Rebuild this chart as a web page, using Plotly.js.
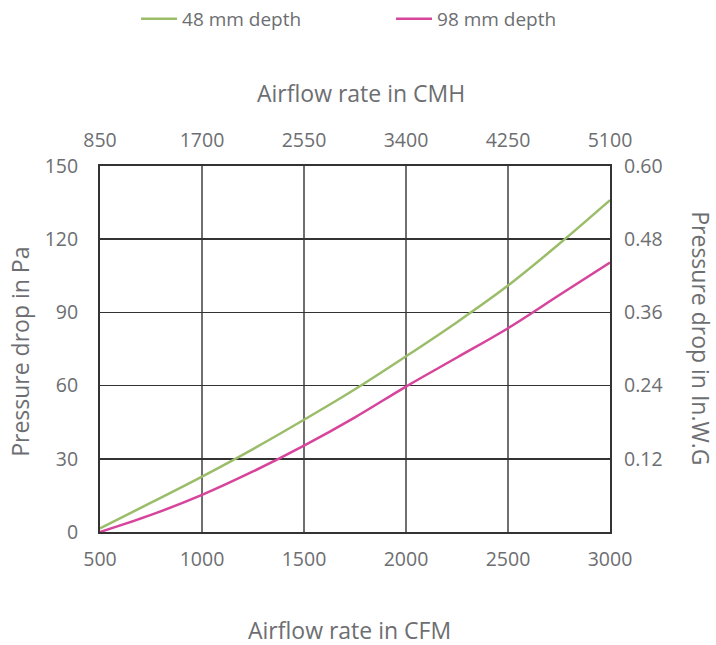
<!DOCTYPE html>
<html>
<head>
<meta charset="utf-8">
<script src="https://cdn.plot.ly/plotly-3.0.1.min.js"></script>
<style>html,body{margin:0;padding:0;background:#fff;}#chart{width:716px;height:645px;}</style>
</head>
<body>
<div id="chart"></div>
<script>
// Airflow rate in CFM (bottom axis)
const cfm = [500, 750, 1000, 1250, 1500, 1750, 2000, 2250, 2500, 2750, 3000];
// Pressure drop in Pa
const depth48 = [1.5, 12, 22.7, 34, 46, 58.5, 72, 86, 101, 118, 136];
const depth98 = [0, 7, 15.2, 24.8, 35.4, 47, 59.6, 71.5, 83.5, 97, 110.4];
const seriesNames = ['48 mm depth', '98 mm depth'];
// Axis ticks
const cfmTicks = [500, 1000, 1500, 2000, 2500, 3000];
const cmhTicks = [850, 1700, 2550, 3400, 4250, 5100];
const paTicks = [0, 30, 60, 90, 120, 150];
const inwgTicks = [0.12, 0.24, 0.36, 0.48, 0.60];
const inwgLabels = ['0.12', '0.24', '0.36', '0.48', '0.60'];
const CMH_PER_CFM = 1.7;
const PA_PER_INWG = 250;

const grey = '#6d6e71';
const tickFont = {family: 'Open Sans, sans-serif', size: 19.5, color: grey};
const titleFont = {family: 'Open Sans, sans-serif', size: 23, color: grey};

const traces = [
  {x: cfm, y: depth48, name: seriesNames[0], mode: 'lines', line: {color: '#9bbd6a', width: 2.5, shape: 'spline'}, xaxis: 'x', yaxis: 'y'},
  {x: cfm, y: depth98, name: seriesNames[1], mode: 'lines', line: {color: '#d6449c', width: 2.5, shape: 'spline'}, xaxis: 'x', yaxis: 'y'},
  // invisible companion trace to anchor the secondary (CMH / in.W.G) axes
  {x: cfm.map(v => v * CMH_PER_CFM), y: depth48.map(v => v / PA_PER_INWG), mode: 'lines', line: {color: 'rgba(0,0,0,0)', width: 0},
   xaxis: 'x2', yaxis: 'y2', showlegend: false, hoverinfo: 'skip'}
];

const layout = {
  width: 716, height: 645,
  margin: {l: 100, r: 106, t: 166, b: 113},
  paper_bgcolor: '#fff', plot_bgcolor: '#fff',
  showlegend: true,
  legend: {orientation: 'h', xref: 'container', yref: 'container', x: 0.19, y: 1.0, xanchor: 'left', yanchor: 'top',
    font: {family: 'Open Sans, sans-serif', size: 19, color: grey}, entrywidth: 204, itemwidth: 36},
  xaxis: {range: [500, 3000], tickvals: cfmTicks, showgrid: true, gridcolor: '#6f6f6f', gridwidth: 1.5,
    showline: true, linecolor: '#333', linewidth: 2, mirror: true, ticks: '', ticklabelstandoff: 9,
    tickfont: tickFont, zeroline: false, fixedrange: true},
  xaxis2: {range: [850, 5100], tickvals: cmhTicks, overlaying: 'x', side: 'top', showgrid: false, ticks: '',
    ticklabelstandoff: 14, tickfont: tickFont, zeroline: false, showline: false},
  yaxis: {range: [0, 150], tickvals: paTicks, showgrid: true, gridcolor: '#333', gridwidth: 1.5,
    showline: true, linecolor: '#333', linewidth: 2, mirror: true, ticks: '', ticklabelstandoff: 16,
    tickfont: tickFont, zeroline: false},
  yaxis2: {range: [0, 0.6], tickvals: inwgTicks, ticktext: inwgLabels, overlaying: 'y', side: 'right', showgrid: false,
    ticks: '', ticklabelstandoff: 13, tickfont: tickFont, zeroline: false, showline: false},
  annotations: [
    {text: 'Airflow rate in CFM', xref: 'paper', yref: 'paper', x: 0.490, y: -0.268, showarrow: false, font: titleFont, xanchor: 'center', yanchor: 'middle'},
    {text: 'Airflow rate in CMH', xref: 'paper', yref: 'paper', x: 0.512, y: 1.200, showarrow: false, font: titleFont, xanchor: 'center', yanchor: 'middle'},
    {text: 'Pressure drop in Pa', xref: 'paper', yref: 'paper', x: -0.157, y: 0.492, showarrow: false, font: titleFont, textangle: -90, xanchor: 'center', yanchor: 'middle'},
    {text: 'Pressure drop in In.W.G', xref: 'paper', yref: 'paper', x: 1.178, y: 0.530, showarrow: false, font: titleFont, textangle: 90, xanchor: 'center', yanchor: 'middle'}
  ]
};

Plotly.newPlot('chart', traces, layout, {displayModeBar: false, staticPlot: true});
</script>
</body>
</html>
